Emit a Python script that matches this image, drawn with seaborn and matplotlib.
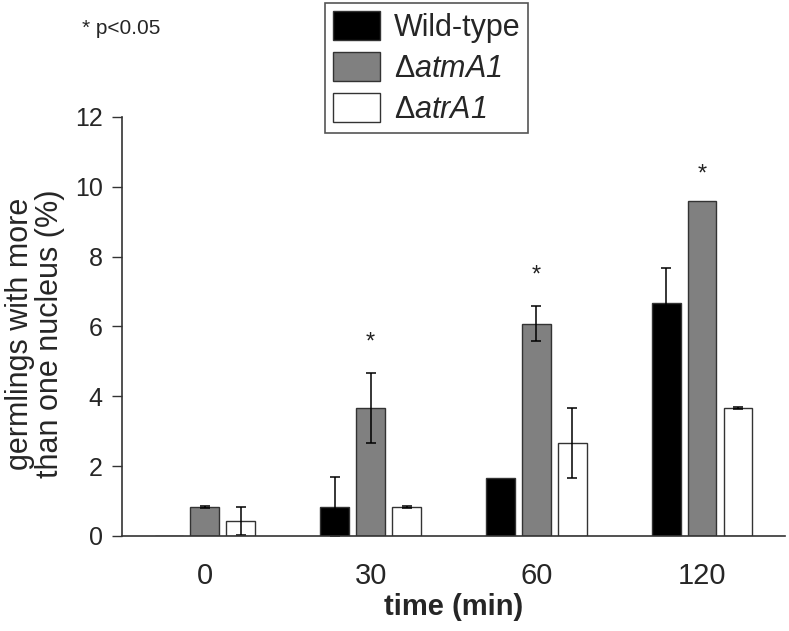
import numpy as np
import pandas as pd
import matplotlib
matplotlib.use("Agg")
import matplotlib.pyplot as plt
from matplotlib.container import BarContainer
import seaborn as sns

# ---- data ----
times = ["0", "30", "60", "120"]
strains = ["Wild-type", "ΔatmA1", "ΔatrA1"]
legend_labels = ["Wild-type", r"$\mathsf{\Delta}\mathit{atmA1}$",
                 r"$\mathsf{\Delta}\mathit{atrA1}$"]
wild_type = [0.0, 0.83, 1.67, 6.67]
atmA1 = [0.83, 3.67, 6.08, 9.58]
atrA1 = [0.42, 0.83, 2.67, 3.67]
wild_type_err = [0.0, 0.87, 0.0, 1.0]
atmA1_err = [0.02, 1.0, 0.5, 0.0]
atrA1_err = [0.40, 0.02, 1.0, 0.02]
star_times = ["30", "60", "120"]
star_y = [5.55, 7.45, 10.36]
y_ticks = [0, 2, 4, 6, 8, 10, 12]

colors = ["#000000", "#808080", "#ffffff"]

df = pd.DataFrame({
    "time": times * 3,
    "strain": [s for s in strains for _ in times],
    "value": wild_type + atmA1 + atrA1,
})
errs = [wild_type_err, atmA1_err, atrA1_err]
vals = [wild_type, atmA1, atrA1]

sns.set_theme(style="white")
plt.rcParams["font.family"] = ["Liberation Sans", "DejaVu Sans"]
plt.rcParams["mathtext.fontset"] = "custom"
plt.rcParams["mathtext.rm"] = "Liberation Sans:italic"
plt.rcParams["mathtext.it"] = "Liberation Sans:italic"
plt.rcParams["mathtext.sf"] = "Liberation Sans"

fig = plt.figure(figsize=(7.89, 6.31), dpi=100)
ax = fig.add_axes([0.1546, 0.1506, 0.8403, 0.664])

sns.barplot(data=df, x="time", y="value", hue="strain", order=times,
            hue_order=strains, palette=colors, width=0.65, gap=0.2,
            edgecolor="#333333", linewidth=1.0, errorbar=None, ax=ax)

bar_containers = [c for c in ax.containers if isinstance(c, BarContainer)]
# error bars and significance stars at the bar centres
for i, cont in enumerate(bar_containers):
    xs = [p.get_x() + p.get_width() / 2 for p in cont.patches]
    for x, v, e in zip(xs, vals[i], errs[i]):
        if e > 0:
            ax.errorbar(x, v, yerr=e, fmt="none", ecolor="black",
                        elinewidth=1.1, capsize=3.5, capthick=1.1)
    if i == 1:
        for t, sy in zip(star_times, star_y):
            x = xs[times.index(t)]
            ax.text(x, sy, "*", ha="center", va="center", fontsize=17,
                    color="#222222")

handles, _ = ax.get_legend_handles_labels()
ax.get_legend().remove()
leg = fig.legend(handles[:3], legend_labels, loc="upper left",
                 bbox_to_anchor=(325 / 789, 1 - 3 / 631), borderaxespad=0,
                 fontsize=22, handlelength=1.55, handleheight=1.1,
                 handletextpad=0.45, labelspacing=0.3, borderpad=0.25,
                 fancybox=False, framealpha=1, edgecolor="#555555")
leg.get_frame().set_linewidth(1.2)

ax.set_xlim(-0.5, 3.5)
ax.set_ylim(0, 12)
ax.set_yticks(y_ticks)
ax.set_yticklabels([str(t) for t in y_ticks])
ax.tick_params(axis="y", left=True, length=7, width=1.0, color="#333333",
               labelsize=18, pad=7, direction="out")
ax.tick_params(axis="x", bottom=False, length=0, labelsize=21, pad=19)
for s in ["top", "right"]:
    ax.spines[s].set_visible(False)
for s in ["left", "bottom"]:
    ax.spines[s].set_color("#333333")
    ax.spines[s].set_linewidth(1.2)

ax.set_xlabel("time (min)", fontsize=21, fontweight="bold")
ax.xaxis.label.set_va("center")
ax.xaxis.set_label_coords(0.5, -(607 - 536) / 419)
ax.set_ylabel("")

fig.text(35 / 789, 1 - 334 / 631, "germlings with more\nthan one nucleus (%)",
         rotation=90, ha="center", va="center", multialignment="center",
         fontsize=22, linespacing=1.0)
fig.text(82 / 789, 1 - 28 / 631, "* p<0.05", ha="left", va="center",
         fontsize=15)

fig.savefig("out.png", dpi=100)
